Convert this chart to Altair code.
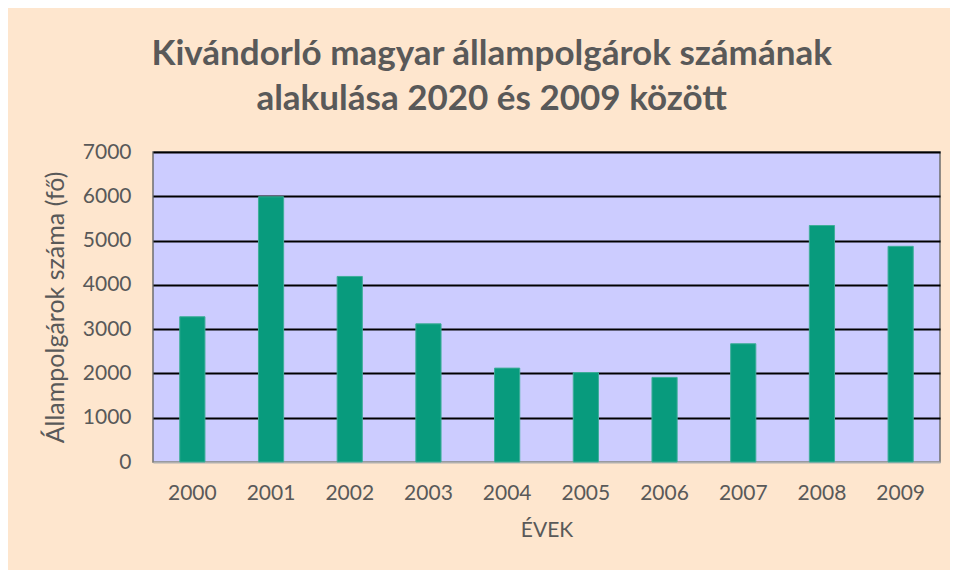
import altair as alt
import pandas as pd

years = ["2000", "2001", "2002", "2003", "2004", "2005", "2006", "2007", "2008", "2009"]
values = [3280, 5990, 4190, 3120, 2120, 2020, 1910, 2670, 5340, 4870]
y_ticks = [0, 1000, 2000, 3000, 4000, 5000, 6000, 7000]

df = pd.DataFrame({"Év": years, "Fő": values})

FONT = "Lato"
TXT = "#595959"

chart = (
    alt.Chart(df)
    .mark_bar(color="#089B7D", stroke="#3FAE99", strokeWidth=1)
    .encode(
        x=alt.X(
            "Év:N",
            sort=years,
            title="ÉVEK",
            scale=alt.Scale(paddingInner=0.68, paddingOuter=0.34),
            axis=alt.Axis(
                labelAngle=0, tickSize=0, domain=False, labelPadding=20,
                labelFont=FONT, labelFontSize=21, labelColor=TXT,
                titleFont=FONT, titleFontSize=21, titleFontWeight="normal",
                titleColor=TXT, titlePadding=16,
            ),
        ),
        y=alt.Y(
            "Fő:Q",
            title="Állampolgárok száma (fő)",
            scale=alt.Scale(domain=[0, 7000], nice=False),
            axis=alt.Axis(
                values=y_ticks, format="d", tickSize=0, domain=False, labelPadding=22,
                labelFont=FONT, labelFontSize=21, labelColor=TXT,
                titleFont=FONT, titleFontSize=25, titleFontWeight="normal",
                titleColor=TXT, titlePadding=14,
                gridColor=alt.condition(alt.datum.value == 0, alt.value("#b0b0b0"), alt.value("#000000")),
                gridWidth=2, gridOpacity=1,
            ),
        ),
    )
    .properties(
        width=787,
        height=310,
        background="#FEE6CE",
        padding={"left": 145, "top": 144, "right": 10, "bottom": 108},
        autosize=alt.AutoSizeParams(type="none"),
        title=alt.TitleParams(
            ["Kivándorló magyar állampolgárok számának", "alakulása 2020 és 2009 között"],
            font=FONT, fontSize=35, fontWeight="bold", color=TXT,
            anchor="middle", frame="bounds", lineHeight=45, offset=24,
        ),
    )
    .configure_view(fill="#CCCCFF", stroke="#6e6e6e", strokeWidth=1.5)
)

chart.save("out.html", embed_options={"renderer": "svg", "actions": False})
